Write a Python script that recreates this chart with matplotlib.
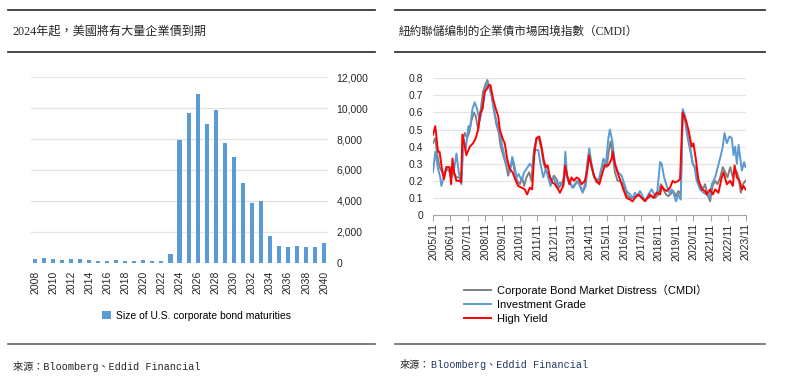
"""Two-panel figure: U.S. corporate bond maturities and the NY Fed CMDI."""

import matplotlib.pyplot as plt
from matplotlib.lines import Line2D
from matplotlib.ticker import FixedLocator, FuncFormatter
import numpy as np

plt.rcParams["font.family"] = ["Liberation Sans", "Noto Sans CJK TC"]

CJK_SERIF = ["Liberation Serif", "Noto Sans CJK TC"]
MONO = ["Liberation Mono", "Noto Sans CJK TC"]
BLUE = "#5B9BD5"
GRAY = "#808080"
RED = "#FF0000"
GRID = "#E3E3E3"
INK = "#262626"

# ---- left panel data: maturities by year ----
years = np.arange(2008, 2041)
maturities = [260, 300, 240, 200, 240, 240, 150, 110, 90, 170, 110, 110, 150, 90, 90,
              580, 7950, 9670, 10940, 8980, 9910, 7730, 6820, 5160, 3860, 3990,
              1730, 1060, 990, 1100, 1040, 1040, 1250]

# ---- right panel data: years after 2005/11 and index values ----
cmdi_t = [0.00, 0.13, 0.25, 0.38, 0.54, 0.67, 0.81, 0.92, 1.06, 1.19, 1.35, 1.50, 1.62,
          1.73, 1.83, 1.96, 2.08, 2.21, 2.35, 2.46, 2.60, 2.73, 2.88, 3.04, 3.13, 3.27,
          3.38, 3.50, 3.65, 3.79, 3.90, 4.04, 4.19, 4.33, 4.46, 4.58, 4.71, 4.85, 5.00,
          5.13, 5.25, 5.38, 5.54, 5.67, 5.81, 5.96, 6.12, 6.25, 6.38, 6.54, 6.69, 6.83,
          6.96, 7.12, 7.25, 7.40, 7.54, 7.65, 7.79, 7.92, 8.08, 8.21, 8.37, 8.50, 8.65,
          8.79, 8.90, 9.00, 9.13, 9.27, 9.42, 9.58, 9.71, 9.85, 10.00, 10.13, 10.23,
          10.35, 10.48, 10.63, 10.77, 10.96, 11.15, 11.35, 11.50, 11.69, 11.83, 12.02,
          12.21, 12.40, 12.60, 12.79, 12.98, 13.12, 13.27, 13.42, 13.56, 13.75, 13.85,
          14.00, 14.13, 14.27, 14.38, 14.52, 14.67, 14.81, 14.96, 15.10, 15.23, 15.38,
          15.54, 15.67, 15.81, 15.96, 16.10, 16.25, 16.38, 16.54, 16.69, 16.83, 16.96,
          17.12, 17.27, 17.37, 17.50, 17.60, 17.73, 17.85, 18.00]
cmdi = [0.42, 0.45, 0.35, 0.28, 0.25, 0.25, 0.27, 0.26, 0.22, 0.25, 0.22, 0.22, 0.20,
        0.45, 0.48, 0.45, 0.48, 0.55, 0.60, 0.58, 0.50, 0.60, 0.72, 0.77, 0.79, 0.74,
        0.70, 0.62, 0.53, 0.48, 0.40, 0.35, 0.30, 0.23, 0.28, 0.32, 0.25, 0.20, 0.18,
        0.22, 0.17, 0.22, 0.25, 0.20, 0.38, 0.45, 0.44, 0.38, 0.30, 0.25, 0.24, 0.20,
        0.23, 0.21, 0.16, 0.18, 0.22, 0.25, 0.20, 0.18, 0.16, 0.18, 0.20, 0.16, 0.14,
        0.17, 0.28, 0.35, 0.28, 0.23, 0.19, 0.20, 0.27, 0.30, 0.28, 0.38, 0.43,
        0.35, 0.25, 0.20, 0.20, 0.18, 0.12, 0.10, 0.10, 0.11, 0.12, 0.10,
        0.09, 0.10, 0.11, 0.10, 0.12, 0.18, 0.15, 0.12, 0.11, 0.13, 0.14,
        0.11, 0.14, 0.12, 0.60, 0.55, 0.45, 0.38, 0.30, 0.28, 0.22, 0.18,
        0.15, 0.18, 0.12, 0.08, 0.17, 0.20, 0.18, 0.22, 0.28, 0.25, 0.22,
        0.28, 0.22, 0.27, 0.25, 0.22, 0.13, 0.18, 0.20]

ig_t = [0.00, 0.13, 0.29, 0.42, 0.48, 0.62, 0.77, 0.92, 1.04, 1.19, 1.35, 1.48, 1.63,
        1.77, 1.88, 2.04, 2.12, 2.27, 2.40, 2.54, 2.69, 2.85, 2.98, 3.12, 3.23, 3.37,
        3.50, 3.65, 3.79, 3.90, 4.04, 4.17, 4.31, 4.42, 4.56, 4.67, 4.81, 4.94, 5.10,
        5.25, 5.38, 5.58, 5.73, 5.87, 6.06, 6.19, 6.35, 6.50, 6.63, 6.77, 6.92, 7.02,
        7.15, 7.31, 7.46, 7.54, 7.62, 7.73, 7.88, 8.02, 8.17, 8.31, 8.46, 8.62, 8.75,
        8.88, 9.00, 9.13, 9.27, 9.42, 9.58, 9.71, 9.81, 9.96, 10.10, 10.19, 10.33,
        10.48, 10.67, 10.87, 10.96, 11.15, 11.35, 11.50, 11.63, 11.77, 11.92, 12.12,
        12.27, 12.40, 12.60, 12.79, 12.92, 13.08, 13.17, 13.31, 13.46, 13.62, 13.75,
        13.88, 14.00, 14.13, 14.27, 14.38, 14.52, 14.65, 14.81, 14.96, 15.06, 15.19,
        15.38, 15.58, 15.77, 15.92, 16.06, 16.25, 16.40, 16.58, 16.69, 16.79, 16.92,
        17.08, 17.21, 17.31, 17.40, 17.50, 17.60, 17.69, 17.79, 17.92, 18.00]
ig = [0.25, 0.37, 0.27, 0.22, 0.17, 0.22, 0.28, 0.27, 0.22, 0.25, 0.36, 0.25, 0.18,
      0.45, 0.38, 0.52, 0.50, 0.62, 0.66, 0.62, 0.55, 0.63, 0.72, 0.78, 0.75, 0.70,
      0.62, 0.55, 0.50, 0.45, 0.38, 0.32, 0.30, 0.25, 0.34, 0.30, 0.22, 0.24, 0.20,
      0.25, 0.27, 0.30, 0.28, 0.38, 0.38, 0.30, 0.22, 0.27, 0.22, 0.17, 0.22, 0.20,
      0.17, 0.19, 0.17, 0.18, 0.37, 0.22, 0.20, 0.16, 0.18, 0.20, 0.17, 0.13, 0.18,
      0.30, 0.39, 0.30, 0.22, 0.20, 0.22, 0.28, 0.33, 0.30, 0.45, 0.50, 0.43,
      0.30, 0.25, 0.23, 0.20, 0.14, 0.12, 0.10, 0.13, 0.11, 0.14, 0.10,
      0.09, 0.12, 0.15, 0.11, 0.14, 0.31, 0.30, 0.22, 0.17, 0.13, 0.15,
      0.12, 0.08, 0.12, 0.09, 0.62, 0.58, 0.48, 0.40, 0.30, 0.28, 0.20,
      0.15, 0.13, 0.12, 0.10, 0.18, 0.22, 0.28, 0.35, 0.40, 0.48, 0.42,
      0.46, 0.45, 0.35, 0.40, 0.30, 0.41, 0.34, 0.26, 0.31, 0.28]

hy_t = [0.00, 0.13, 0.29, 0.38, 0.54, 0.63, 0.77, 0.96, 1.04, 1.12, 1.21, 1.35, 1.54,
        1.62, 1.69, 1.83, 1.92, 2.12, 2.31, 2.46, 2.60, 2.73, 2.85, 2.98, 3.12, 3.21,
        3.31, 3.46, 3.62, 3.75, 3.85, 4.00, 4.13, 4.27, 4.42, 4.58, 4.77, 4.90, 5.10,
        5.29, 5.42, 5.58, 5.71, 5.83, 5.96, 6.12, 6.25, 6.38, 6.50, 6.60, 6.73, 6.88,
        7.02, 7.21, 7.31, 7.40, 7.50, 7.60, 7.69, 7.85, 7.98, 8.12, 8.27, 8.42, 8.56,
        8.75, 8.88, 8.98, 9.10, 9.27, 9.42, 9.58, 9.77, 9.90, 10.10, 10.29, 10.35,
        10.48, 10.62, 10.77, 10.96, 11.15, 11.35, 11.50, 11.63, 11.83, 12.02, 12.21,
        12.35, 12.50, 12.69, 12.88, 13.08, 13.17, 13.31, 13.46, 13.65, 13.81, 13.94,
        14.13, 14.23, 14.38, 14.58, 14.71, 14.90, 15.00, 15.15, 15.29, 15.48, 15.67,
        15.77, 15.96, 16.12, 16.25, 16.44, 16.63, 16.73, 16.92, 17.12, 17.27, 17.37,
        17.50, 17.65, 17.79, 17.88, 18.00]
hy = [0.47, 0.52, 0.37, 0.37, 0.25, 0.21, 0.28, 0.28, 0.18, 0.33, 0.25, 0.20, 0.20,
      0.19, 0.47, 0.40, 0.35, 0.40, 0.42, 0.45, 0.50, 0.60, 0.62, 0.72, 0.74, 0.76,
      0.76, 0.68, 0.62, 0.58, 0.50, 0.45, 0.42, 0.33, 0.27, 0.25, 0.20, 0.17, 0.16,
      0.15, 0.12, 0.16, 0.15, 0.35, 0.45, 0.46, 0.40, 0.32, 0.28, 0.29, 0.22, 0.19,
      0.18, 0.15, 0.13, 0.15, 0.17, 0.29, 0.25, 0.18, 0.22, 0.20, 0.22, 0.21, 0.18,
      0.20, 0.26, 0.35, 0.30, 0.23, 0.20, 0.18, 0.25, 0.29, 0.29, 0.33, 0.37,
      0.30, 0.25, 0.21, 0.15, 0.10, 0.09, 0.08, 0.10, 0.12, 0.10, 0.08,
      0.10, 0.12, 0.10, 0.13, 0.12, 0.17, 0.15, 0.14, 0.16, 0.20, 0.19,
      0.20, 0.21, 0.60, 0.55, 0.50, 0.40, 0.42, 0.32, 0.20, 0.15, 0.14,
      0.12, 0.15, 0.12, 0.15, 0.13, 0.22, 0.25, 0.18, 0.20, 0.17, 0.29,
      0.22, 0.20, 0.15, 0.17, 0.15]

x_labels = [f"{y}/11" for y in range(2005, 2024)]
y_labels = ["0", "0.1", "0.2", "0.3", "0.4", "0.5", "0.6", "0.7", "0.8"]

fig = plt.figure(figsize=(7.87, 3.85), dpi=100)

# ---- frame rules, titles, sources ----
for x0, x1 in [(0.010, 0.4765), (0.502, 0.972)]:
    fig.add_artist(Line2D([x0, x1], [0.974, 0.974], color=INK, lw=1.2))
    fig.add_artist(Line2D([x0, x1], [0.865, 0.865], color=INK, lw=1.2))
    fig.add_artist(Line2D([x0, x1], [0.1065, 0.1065], color="#666666", lw=1.2))

fig.text(0.016, 0.917, "2024年起，美國將有大量企業債到期", family=CJK_SERIF,
         fontsize=8.7, color=INK, va="center")
fig.text(0.507, 0.917, "紐約聯儲编制的企業債市場困境指數（CMDI）", family=CJK_SERIF,
         fontsize=8.4, color=INK, va="center")
fig.text(0.016, 0.049, "來源：Bloomberg、Eddid Financial", family=MONO,
         fontsize=7.3, color=INK, va="center")
fig.text(0.508, 0.051, "來源：", family=MONO, fontsize=7.3, color=INK, va="center")
fig.text(0.548, 0.051, "Bloomberg、Eddid Financial", family=MONO, fontsize=7.3,
         color="#1F3864", va="center")

# ---- left: bar chart ----
ax1 = fig.add_axes([0.0394, 0.3177, 0.3774, 0.4815])
ax1.bar(years, maturities, width=0.45, color=BLUE, zorder=3,
        label="Size of U.S. corporate bond maturities")
ax1.set_xlim(2007.56, 2040.44)
ax1.set_ylim(0, 12000)
ax1.yaxis.tick_right()
ax1.set_yticks(range(0, 12001, 2000))
ax1.yaxis.set_major_formatter(FuncFormatter(lambda v, _: f"{int(v):,}"))
ax1.set_xticks(years[::2])
ax1.set_xticklabels([str(y) for y in years[::2]], rotation=90)
ax1.grid(axis="y", color=GRID, lw=0.9, zorder=0)
ax1.tick_params(length=0, labelsize=7.5, colors=INK)
ax1.tick_params(axis="y", pad=6)
ax1.tick_params(axis="x", pad=6)
for side in ax1.spines.values():
    side.set_visible(False)
ax1.legend(loc="center", bbox_to_anchor=(0.250, 0.180), bbox_transform=fig.transFigure,
           frameon=False, fontsize=7.5, handlelength=0.8, handleheight=0.8,
           handletextpad=0.5)

# ---- right: CMDI lines ----
ax2 = fig.add_axes([0.5502, 0.4416, 0.3971, 0.355])
ax2.plot(cmdi_t, cmdi, color=GRAY, lw=1.4, label="Corporate Bond Market Distress（CMDI）")
ax2.plot(ig_t, ig, color=BLUE, lw=1.4, label="Investment Grade")
ax2.plot(hy_t, hy, color=RED, lw=1.4, label="High Yield")
ax2.set_xlim(0, 18)
ax2.set_ylim(0, 0.8)
ax2.yaxis.set_major_locator(FixedLocator(np.arange(9) / 10))
ax2.set_yticklabels(y_labels)
ax2.set_xticks(range(19))
ax2.set_xticklabels(x_labels, rotation=90)
ax2.grid(axis="y", color=GRID, lw=0.9, zorder=0)
ax2.set_axisbelow(True)
ax2.tick_params(axis="y", length=0, labelsize=7.5, colors=INK, pad=7)
ax2.tick_params(axis="x", length=4, width=0.8, color="#A6A6A6", labelsize=7.5,
                labelcolor=INK, pad=2)
for name, side in ax2.spines.items():
    side.set_visible(name == "bottom")
ax2.spines["bottom"].set_color("#A6A6A6")
ax2.legend(loc="upper left", bbox_to_anchor=(0.583, 0.275), bbox_transform=fig.transFigure,
           frameon=False, fontsize=8, handlelength=2.4, handletextpad=0.5,
           labelspacing=0.35, borderpad=0)

fig.savefig("out.png", dpi=100)
plt.close(fig)
